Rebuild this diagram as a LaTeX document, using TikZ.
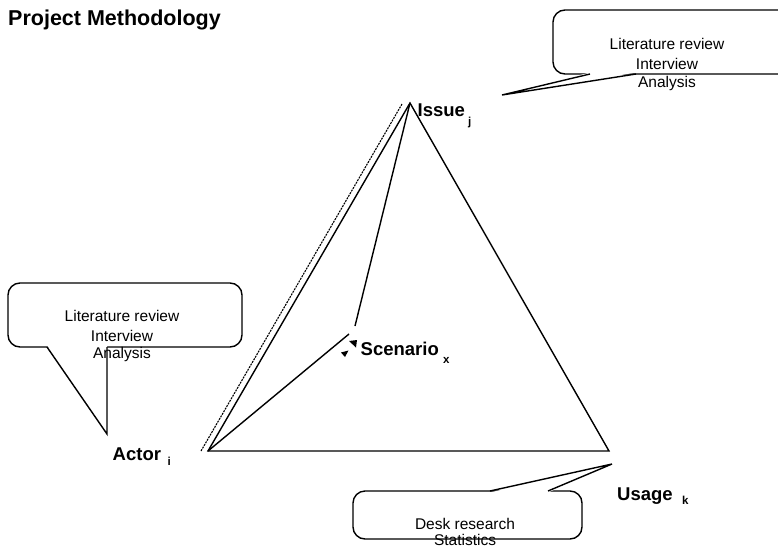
\documentclass[tikz,border=0pt]{standalone}
\usepackage{fontspec}
\setmainfont{Liberation Sans}
\begin{document}
\begin{tikzpicture}[x=1pt,y=-1pt,
  edge/.style={line width=1.4pt,line join=miter},
  guide/.style={line width=1.1pt,dash pattern=on 2pt off 1pt},
  bubble/.style={line width=1.4pt,rounded corners=12pt,fill=white},
  tipline/.style={line width=1.4pt,line join=miter},
  vertexlabel/.style={inner sep=0pt,anchor=base west,font=\bfseries\fontsize{18.5}{22}\selectfont},
  sublabel/.style={inner sep=0pt,anchor=base west,font=\bfseries\fontsize{11.5}{13}\selectfont},
  notetext/.style={inner sep=0pt,anchor=base,font=\fontsize{15.5}{19}\selectfont},
  titletext/.style={inner sep=0pt,anchor=base west,font=\bfseries\fontsize{21.5}{25}\selectfont}]
\useasboundingbox (0,0) rectangle (778,549);
\clip (0,0) rectangle (778,549);

% title
\node[titletext] (title) at (8,25) {Project Methodology};

% vertices of the methodology triangle
\coordinate (actor) at (208,451);
\coordinate (issue) at (410,103);
\coordinate (usage) at (609,451);
\coordinate (guideA) at (201,451);
\coordinate (guideI) at (402,104);
\coordinate (scenI) at (355,326);
\coordinate (scenA) at (349,334);

\draw[edge] (actor) -- (issue) -- (usage) -- cycle;
\draw[guide] (guideA) -- (guideI);
\draw[edge] (issue) -- (scenI);
\draw[edge] (actor) -- (scenA);
\fill (349,341) -- (357,340) -- (356,347.5) -- cycle;
\fill (341,352.5) -- (348.5,350.5) -- (345,357) -- cycle;

% vertex labels
\node[vertexlabel] (issueLbl) at (417.5,116) {Issue};
\node[sublabel] (issueSub) at (468,125) {j};
\node[vertexlabel] (scenLbl) at (360.5,355.5) {Scenario};
\node[sublabel] (scenSub) at (443,363) {x};
\node[vertexlabel] (actorLbl) at (112.5,460) {Actor};
\node[sublabel] (actorSub) at (167.5,465) {i};
\node[vertexlabel] (usageLbl) at (617,500) {Usage};
\node[sublabel] (usageSub) at (682,504) {k};

% callout for the issue
\draw[bubble] (553,10) rectangle (790,74);
\fill[white] (590,72.5) -- (502,95) -- (636,72.5) -- cycle;
\draw[tipline] (590,74) -- (502,95) -- (636,74);
\node[notetext] (issueN1) at (667,49.3) {Literature review};
\node[notetext] (issueN2) at (667,69) {Interview};
\node[notetext] (issueN3) at (667,87.5) {Analysis};

% callout for the actor
\draw[bubble] (8,283) rectangle (242,347);
\fill[white] (47,345.5) -- (107,434) -- (107,345.5) -- cycle;
\draw[tipline] (47,347) -- (107,434) -- (107,347);
\node[notetext] (actorN1) at (122,321.7) {Literature review};
\node[notetext] (actorN2) at (122,341) {Interview};
\node[notetext] (actorN3) at (122,358.5) {Analysis};

% callout for the usage
\draw[bubble] (353,491) rectangle (582,539);
\fill[white] (490,492.5) -- (612,464) -- (548,492.5) -- cycle;
\draw[tipline] (490,491) -- (612,464) -- (548,491);
\node[notetext] (usageN1) at (465,529.3) {Desk research};
\node[notetext] (usageN2) at (465,545) {Statistics};
\end{tikzpicture}
\end{document}
